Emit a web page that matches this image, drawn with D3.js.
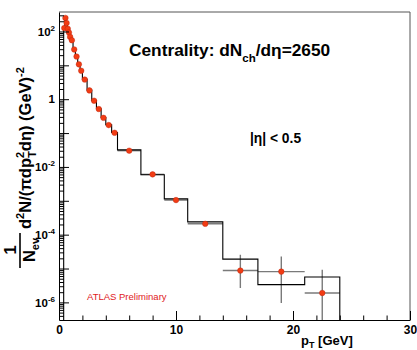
<!DOCTYPE html>
<html><head><meta charset="utf-8">
<script src="https://cdn.jsdelivr.net/npm/d3@7"></script>
<style>
body{margin:0;background:#fff}
svg{display:block}
text{font-family:"Liberation Sans",Arial,Helvetica,sans-serif}
</style>
</head><body>
<svg id="c" width="417" height="350"></svg>
<script>
// ---- data ----
const binEdges = [0.4,0.5,0.6,0.7,0.8,0.9,1.0,1.2,1.4,1.6,1.8,2.0,2.4,2.8,3.2,3.6,4.0,4.5,5,7,9,11,14,17,21,24];
const dataValues = [126,251,178,120,93.3,69.2,55.0,29.5,18.2,10.7,6.92,3.80,1.82,0.902,0.513,0.282,0.172,0.102,0.0302,0.00603,0.00105,0.000209,8.7e-6,8.1e-6,1.9e-6];
const refValues  = [135,270,185,124,96,71,56.5,30.2,18.6,10.9,7.05,3.88,1.86,0.92,0.523,0.288,0.176,0.104,0.0318,0.00588,0.00114,0.000239,1.9e-5,3.35e-6,5.6e-6];
const errHigh = [null,null,null,null,null,null,null,null,null,null,null,null,null,null,null,null,null,null,null,null,null,0.000235,2.55e-5,2.26e-5,9.2e-6];
const errLow  = [null,null,null,null,null,null,null,null,null,null,null,null,null,null,null,null,null,null,null,null,null,0.000186,2.66e-6,9.6e-7,1e-8];
const xTicksMajor = [0,10,20,30];
const xTicksMinor = [2,4,6,8,12,14,16,18,22,24,26,28];
const yDecades = [-6,-5,-4,-3,-2,-1,0,1,2];
const yLabelExps = [-6,-4,-2,0,2];
const yDomainLog = [-6.52, 2.575];
const xDomain = [0,30];

// ---- scales ----
const L=59, R=410, T=12, B=320;
const svg = d3.select("#c");
const x = d3.scaleLinear().domain(xDomain).range([L,R]);
const y = d3.scaleLog().domain(yDomainLog.map(e=>Math.pow(10,e))).range([B,T]);
const yMin = y.domain()[0];

svg.append("defs").append("clipPath").attr("id","clip")
  .append("rect").attr("x",L).attr("y",T).attr("width",R-L).attr("height",B-T);

// ---- frame ----
svg.append("line").attr("x1",L).attr("x2",R).attr("y1",T).attr("y2",T).attr("stroke","#555").attr("stroke-width",1);
svg.append("line").attr("x1",R).attr("x2",R).attr("y1",T).attr("y2",B).attr("stroke","#555").attr("stroke-width",1);

const plot = svg.append("g").attr("clip-path","url(#clip)");

// ---- reference histogram (black) ----
const hpts = [[binEdges[0], yMin]];
refValues.forEach((v,i)=>{ hpts.push([binEdges[i],v]); hpts.push([binEdges[i+1],v]); });
hpts.push([binEdges[binEdges.length-1], yMin]);

// data x error bars (gray)
const pts = dataValues.map((v,i)=>({lo:binEdges[i],hi:binEdges[i+1],c:(binEdges[i]+binEdges[i+1])/2,v,eh:errHigh[i],el:errLow[i]}));
plot.selectAll(".xe").data(pts).enter().append("line")
  .attr("x1",d=>x(d.lo)).attr("x2",d=>x(d.hi)).attr("y1",d=>y(d.v)).attr("y2",d=>y(d.v))
  .attr("stroke","#7a7a7a").attr("stroke-width",1.4);
plot.selectAll(".ye").data(pts.filter(d=>d.eh!==null)).enter().append("line")
  .attr("x1",d=>x(d.c)).attr("x2",d=>x(d.c)).attr("y1",d=>y(d.eh)).attr("y2",d=>y(Math.max(d.el,yMin*0.5)))
  .attr("stroke","#7a7a7a").attr("stroke-width",1.4);

plot.append("path").datum(hpts)
  .attr("d", d3.line().x(d=>x(d[0])).y(d=>y(d[1])))
  .attr("fill","none").attr("stroke","#000").attr("stroke-width",1.1);

plot.selectAll(".pt").data(pts).enter().append("circle")
  .attr("cx",d=>x(d.c)).attr("cy",d=>y(d.v)).attr("r",2.8)
  .attr("fill","#f23c14").attr("stroke","#b3200c").attr("stroke-width",0.4);

// ---- x axis ----
const gx = svg.append("g").attr("transform",`translate(0,${B})`);
gx.call(d3.axisBottom(x).tickValues(xTicksMajor).tickSize(-9).tickSizeOuter(0).tickPadding(5).tickFormat(d3.format("d")));
const gxm = svg.append("g").attr("transform",`translate(0,${B})`);
gxm.call(d3.axisBottom(x).tickValues(xTicksMinor).tickSize(-4.5).tickSizeOuter(0).tickFormat(""));
[gx,gxm].forEach(g=>{g.select(".domain").attr("stroke","#000"); g.selectAll("line").attr("stroke","#000");});
gxm.select(".domain").remove();
gx.selectAll("text").attr("font-size",12).attr("font-weight","bold").attr("fill","#000")
  .attr("font-family","Liberation Sans, Arial, sans-serif");

// ---- y axis ----
const minorY = [];
for (let e=-7;e<=2;e++) for (let k=2;k<=9;k++){ const v=k*Math.pow(10,e); if (v>=y.domain()[0] && v<=y.domain()[1]) minorY.push(v);}
const gy = svg.append("g").attr("transform",`translate(${L},0)`);
gy.call(d3.axisLeft(y).tickValues(yDecades.map(e=>Math.pow(10,e))).tickSize(-10).tickSizeOuter(0).tickPadding(4)
  .tickFormat(d=>{const e=Math.round(Math.log10(d)); return yLabelExps.includes(e)?String(e):"";}));
const gym = svg.append("g").attr("transform",`translate(${L},0)`);
gym.call(d3.axisLeft(y).tickValues(minorY).tickSize(-5).tickSizeOuter(0).tickFormat(""));
gym.select(".domain").remove();
[gy,gym].forEach(g=>{g.selectAll("line").attr("stroke","#000");});
gy.select(".domain").attr("stroke","#000");
gy.selectAll("text").each(function(){
  const t=d3.select(this); const s=t.text(); t.text("");
  t.attr("font-size",11.5).attr("font-weight","bold").attr("fill","#000").attr("font-family","Liberation Sans, Arial, sans-serif");
  if (s==="") return;
  if (s==="0") { t.text("1"); return; }
  t.append("tspan").text("10");
  t.append("tspan").attr("dy",-5).attr("font-size",8).text(s);
});

// ---- texts ----
const c = svg.append("text").attr("x",129).attr("y",56).attr("font-size",17.3).attr("font-weight","bold").attr("fill","#000");
c.append("tspan").text("Centrality: dN");
c.append("tspan").attr("dy",6).attr("font-size",11.5).text("ch");
c.append("tspan").attr("dy",-6).text("/dη=2650");

svg.append("text").attr("x",250).attr("y",143).attr("font-size",13.8).attr("font-weight","bold").attr("fill","#000").text("|η| < 0.5");

svg.append("text").attr("x",87).attr("y",300).attr("font-size",9.5).attr("fill","#e0201c").text("ATLAS Preliminary");

const xt = svg.append("text").attr("x",301).attr("y",345).attr("font-size",13).attr("font-weight","bold").attr("fill","#000");
xt.append("tspan").text("p");
xt.append("tspan").attr("dy",3).attr("font-size",9).text("T");
xt.append("tspan").attr("dy",-3).text(" [GeV]");

// y title
const yt = svg.append("text").attr("transform","translate(31,229) rotate(-90)").attr("font-size",16.5).attr("font-weight","bold").attr("fill","#000");
yt.append("tspan").text("d");
yt.append("tspan").attr("dy",-7).attr("font-size",11).text("2");
yt.append("tspan").attr("dy",7).text("N/(πdp");
yt.append("tspan").attr("dy",-7).attr("font-size",11).text("2");
yt.append("tspan").attr("dy",12).attr("dx",-6).attr("font-size",11).text("T");
yt.append("tspan").attr("dy",-5).text("dη) (GeV)");
yt.append("tspan").attr("dy",-7).attr("font-size",11).text("-2");

svg.append("text").attr("transform","translate(16,250) rotate(-90)").attr("text-anchor","middle")
  .attr("font-size",16.5).attr("font-weight","bold").attr("fill","#000").text("1");
svg.append("line").attr("x1",20).attr("x2",20).attr("y1",233).attr("y2",268).attr("stroke","#000").attr("stroke-width",1.6);
const den = svg.append("text").attr("transform","translate(35,250) rotate(-90)").attr("text-anchor","middle")
  .attr("font-size",16.5).attr("font-weight","bold").attr("fill","#000");
den.append("tspan").text("N");
den.append("tspan").attr("dy",4).attr("font-size",11).text("ev");
</script>
</body></html>
